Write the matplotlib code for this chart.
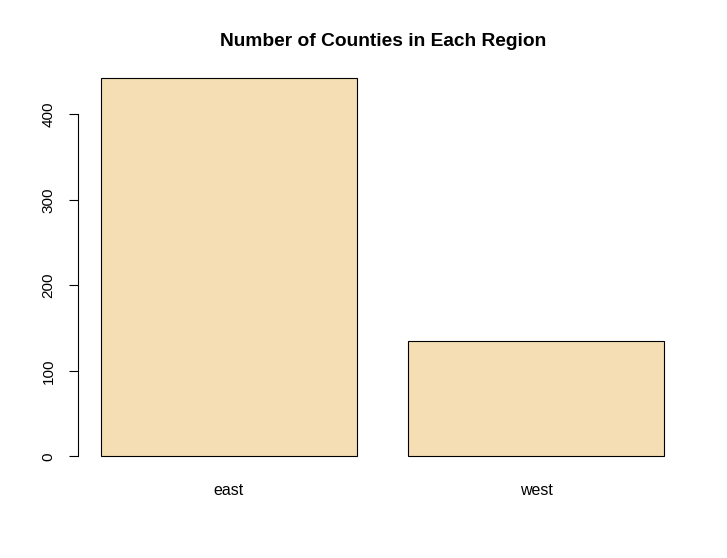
import matplotlib
matplotlib.use("Agg")
import matplotlib.pyplot as plt

regions = ["east", "west"]
counts = [442, 135]
yticks = [0, 100, 200, 300, 400]
title = "Number of Counties in Each Region"

plt.rcParams['font.family'] = ['Liberation Sans', 'DejaVu Sans']

W, H = 727, 558
fig = plt.figure(figsize=(W / 100, H / 100), dpi=100)
left, right, top, bottom = 78.4, 686.9, 63.3, 471.4
ax = fig.add_axes([left / W, (H - bottom) / H, (right - left) / W, (bottom - top) / H])

width = 1.0
space = 0.2
lefts = [space + i * (width + space) for i in range(len(regions))]
centers = [l + width / 2 for l in lefts]
ax.bar(centers, counts, width=width, color="#F5DEB3", edgecolor="black", linewidth=0.8)

xmin, xmax = lefts[0], lefts[-1] + width
pad = 0.04 * (xmax - xmin)
ax.set_xlim(xmin - pad, xmax + pad)
ymax = max(counts)
ax.set_ylim(-0.04 * ymax, 1.04 * ymax)

for s in ["top", "right", "bottom"]:
    ax.spines[s].set_visible(False)
ax.spines["left"].set_bounds(yticks[0], yticks[-1])
ax.spines["left"].set_linewidth(0.8)

ax.set_yticks(yticks)
ax.set_yticklabels([str(t) for t in yticks], rotation=90, va="center", fontsize=11)
ax.tick_params(axis="y", length=6.5, width=0.8, pad=10)

ax.set_xticks(centers)
ax.set_xticklabels(regions, fontsize=11.5)
ax.tick_params(axis="x", length=0, pad=8.5)

fig.text((left + right) / 2 / W, 1 - 41.5 / H, title, ha="center", va="center",
         fontsize=13.8, fontweight="bold")

fig.savefig("out.png", dpi=100)
